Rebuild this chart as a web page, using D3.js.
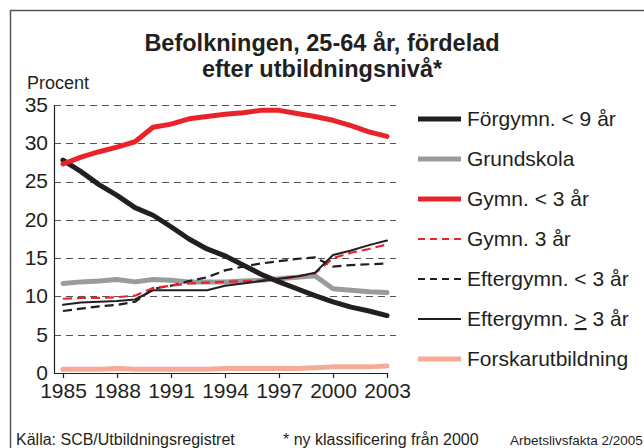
<!DOCTYPE html>
<html>
<head>
<meta charset="utf-8">
<script src="https://cdn.jsdelivr.net/npm/d3@7"></script>
<style>
  body { margin: 0; background: #fff; }
  svg text { font-family: "Liberation Sans", Arial, sans-serif; fill: #231f20; }
</style>
</head>
<body>
<div id="chart"></div>
<script>
// Data (percent of population 25-64)
const years = d3.range(1985, 2004);
const yTicks = [0, 5, 10, 15, 20, 25, 30, 35];
const xTicks = [1985, 1988, 1991, 1994, 1997, 2000, 2003];

const forgymn     = [27.8, 26.3, 24.6, 23.2, 21.6, 20.6, 19.1, 17.5, 16.2, 15.3, 14.1, 12.9, 11.9, 11.0, 10.1, 9.3, 8.6, 8.1, 7.5];
const grundskola  = [11.7, 11.9, 12.0, 12.2, 11.9, 12.2, 12.1, 11.9, 11.9, 11.9, 12.0, 12.1, 12.3, 12.5, 12.7, 11.0, 10.8, 10.6, 10.5];
const gymnKort    = [27.3, 28.2, 28.9, 29.5, 30.2, 32.1, 32.5, 33.2, 33.5, 33.8, 34.0, 34.3, 34.3, 33.9, 33.5, 33.0, 32.3, 31.5, 30.9];
const gymn3       = [9.7, 9.8, 9.8, 9.9, 10.1, 11.1, 11.4, 11.7, 11.8, 11.9, 12.0, 12.1, 12.3, 12.6, 13.0, 15.0, 15.7, 16.2, 16.8];
const efterKort   = [8.1, 8.4, 8.7, 8.9, 9.3, 11.0, 11.4, 12.0, 12.5, 13.4, 13.9, 14.3, 14.6, 14.9, 15.1, 13.9, 14.1, 14.2, 14.3];
const efterLang   = [8.9, 9.2, 9.3, 9.4, 9.6, 10.8, 10.8, 10.8, 10.8, 11.4, 11.7, 12.0, 12.3, 12.6, 13.1, 15.4, 16.0, 16.7, 17.3];
const forskar     = [0.5, 0.5, 0.5, 0.6, 0.5, 0.5, 0.5, 0.5, 0.5, 0.6, 0.6, 0.6, 0.6, 0.6, 0.7, 0.8, 0.8, 0.8, 0.9];

// Series styling (draw order = array order)
const series = [
    { name: "Forskarutbildning",   values: forskar,    color: "#f5ab96", width: 5,   dash: null },
    { name: "Grundskola",          values: grundskola, color: "#9b9b9b", width: 5,   dash: null },
    { name: "Eftergymn. < 3 år",   values: efterKort,  color: "#231f20", width: 2.2, dash: "9,5" },
    { name: "Gymn. 3 år",          values: gymn3,      color: "#e8242a", width: 2.2, dash: "9,5" },
    { name: "Eftergymn. ≥ 3 år",   values: efterLang,  color: "#231f20", width: 2,   dash: null },
    { name: "Förgymn. < 9 år",     values: forgymn,    color: "#231f20", width: 5,   dash: null },
    { name: "Gymn. < 3 år",        values: gymnKort,   color: "#e8242a", width: 5,   dash: null }
];
const legendOrder = ["Förgymn. < 9 år", "Grundskola", "Gymn. < 3 år", "Gymn. 3 år", "Eftergymn. < 3 år", "Eftergymn. ≥ 3 år", "Forskarutbildning"];

const width = 644, height = 448;
const svg = d3.select("#chart").append("svg")
    .attr("width", width)
    .attr("height", height);

// Frame (top and left edges visible)
svg.append("path")
    .attr("d", `M10.5,${height} L10.5,10.5 L${width},10.5`)
    .attr("fill", "none")
    .attr("stroke", "#555")
    .attr("stroke-width", 1.5);

// Title
svg.append("text")
    .attr("x", 322).attr("y", 51)
    .attr("text-anchor", "middle")
    .attr("font-size", 23.5).attr("font-weight", "bold")
    .text("Befolkningen, 25-64 år, fördelad");
svg.append("text")
    .attr("x", 322).attr("y", 77)
    .attr("text-anchor", "middle")
    .attr("font-size", 23.5).attr("font-weight", "bold")
    .text("efter utbildningsnivå*");

svg.append("text")
    .attr("x", 27).attr("y", 89)
    .attr("font-size", 18)
    .text("Procent");

// Scales
const x = d3.scaleLinear().domain([1985, 2003]).range([63, 387]);
const y = d3.scaleLinear().domain([0, 35]).range([373, 105]);
const axisLeftX = 54;

// Gridlines
svg.append("g")
    .selectAll("line")
    .data(yTicks.filter(t => t > 0))
    .join("line")
    .attr("x1", axisLeftX).attr("x2", 396)
    .attr("y1", d => Math.round(y(d)) + 0.5)
    .attr("y2", d => Math.round(y(d)) + 0.5)
    .attr("stroke", "#555")
    .attr("stroke-width", 1)
    .attr("stroke-dasharray", "7,5");

// Y axis
const yAxis = svg.append("g")
    .attr("transform", `translate(${axisLeftX},0)`)
    .call(d3.axisLeft(y).tickValues(yTicks).tickSize(0).tickPadding(6));
yAxis.select(".domain").remove();
yAxis.selectAll("text")
    .attr("font-size", 21)
    .attr("font-family", "Liberation Sans, Arial, sans-serif")
    .attr("fill", "#231f20")
    .attr("dy", "0.3em");
svg.append("line")
    .attr("x1", axisLeftX + 0.5).attr("x2", axisLeftX + 0.5)
    .attr("y1", y(35)).attr("y2", y(0))
    .attr("stroke", "#231f20").attr("stroke-width", 1.2);

// X axis
const xAxis = svg.append("g")
    .attr("transform", `translate(0,${y(0)})`)
    .call(d3.axisBottom(x).tickValues(xTicks).tickFormat(d3.format("d")).tickSize(5).tickPadding(5));
xAxis.select(".domain").remove();
xAxis.selectAll("line").attr("stroke", "#231f20").attr("stroke-width", 1.2);
xAxis.selectAll("text")
    .attr("font-size", 21)
    .attr("font-family", "Liberation Sans, Arial, sans-serif")
    .attr("fill", "#231f20");
svg.append("line")
    .attr("x1", axisLeftX).attr("x2", x(2003) + 1)
    .attr("y1", y(0) + 0.5).attr("y2", y(0) + 0.5)
    .attr("stroke", "#231f20").attr("stroke-width", 1.2);

// Lines
const line = d3.line()
    .x((d, i) => x(years[i]))
    .y(d => y(d));

svg.append("g")
    .selectAll("path")
    .data(series)
    .join("path")
    .attr("d", d => line(d.values))
    .attr("fill", "none")
    .attr("stroke", d => d.color)
    .attr("stroke-width", d => d.width)
    .attr("stroke-dasharray", d => d.dash)
    .attr("stroke-linejoin", "round")
    .attr("stroke-linecap", d => d.dash ? "butt" : "round");

// Legend
const legend = svg.append("g");
legendOrder.forEach((name, i) => {
    const s = series.find(d => d.name === name);
    const by = 126 + i * 40;
    legend.append("line")
        .attr("x1", 418).attr("x2", 461)
        .attr("y1", by - 7).attr("y2", by - 7)
        .attr("stroke", s.color)
        .attr("stroke-width", s.width)
        .attr("stroke-dasharray", s.dash ? "7,5" : null);
    const t = legend.append("text")
        .attr("x", 467).attr("y", by)
        .attr("font-size", 21);
    if (name === "Eftergymn. ≥ 3 år") {
        t.append("tspan").text("Eftergymn. ");
        t.append("tspan").attr("text-decoration", "underline").text(">");
        t.append("tspan").text(" 3 år");
    } else {
        t.text(name);
    }
});

// Footer
svg.append("text")
    .attr("x", 16).attr("y", 445)
    .attr("font-size", 16)
    .text("Källa: SCB/Utbildningsregistret");
svg.append("text")
    .attr("x", 283).attr("y", 445)
    .attr("font-size", 16)
    .text("* ny klassificering från 2000");
svg.append("text")
    .attr("x", 510).attr("y", 445)
    .attr("font-size", 13.5)
    .text("Arbetslivsfakta 2/2005");
</script>
</body>
</html>
